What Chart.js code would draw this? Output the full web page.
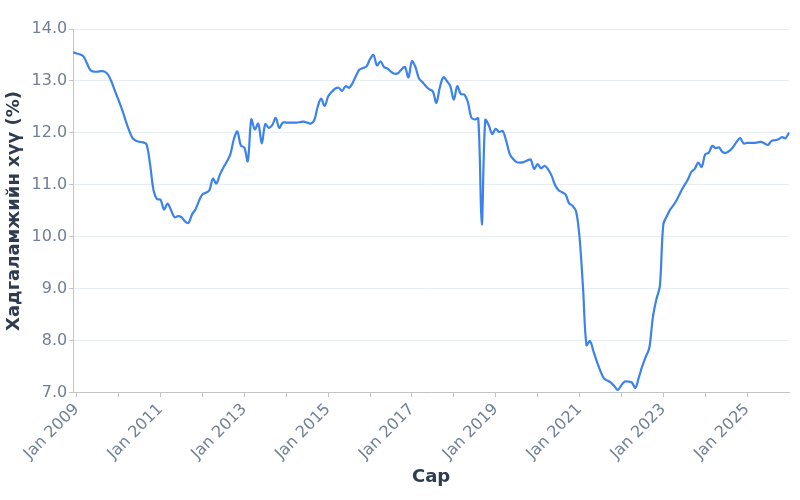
<!DOCTYPE html>
<html>
<head>
<meta charset="utf-8">
<script src="https://cdn.jsdelivr.net/npm/chart.js@4"></script>
<style>
    html, body { margin: 0; padding: 0; background: #fff; }
    #wrap { width: 800px; height: 500px; }
</style>
</head>
<body>
<div id="wrap"><canvas id="rateChart" width="800" height="500"></canvas></div>
<script>
// Monthly deposit rate, Dec 2008 .. Jan 2026
const startYear = 2008;
const startMonth = 11; // December
const monthNames = ['Jan', 'Feb', 'Mar', 'Apr', 'May', 'Jun',
                    'Jul', 'Aug', 'Sep', 'Oct', 'Nov', 'Dec'];

const depositRate = [
    13.55,                                                                               // Dec 2008
    13.53, 13.51, 13.47, 13.33, 13.20, 13.18, 13.18, 13.19, 13.18, 13.12, 12.98, 12.80, // 2009
    12.63, 12.45, 12.24, 12.05, 11.90, 11.85, 11.83, 11.82, 11.78, 11.40, 10.90, 10.73, // 2010
    10.72, 10.53, 10.64, 10.52, 10.38, 10.40, 10.38, 10.30, 10.27, 10.43, 10.53, 10.69, // 2011
    10.82, 10.85, 10.90, 11.12, 11.03, 11.20, 11.33, 11.45, 11.59, 11.88, 12.03, 11.76, // 2012
    11.72, 11.46, 12.26, 12.07, 12.18, 11.80, 12.17, 12.10, 12.15, 12.29, 12.10, 12.20, // 2013
    12.20, 12.20, 12.20, 12.20, 12.21, 12.22, 12.20, 12.18, 12.24, 12.50, 12.66, 12.52, // 2014
    12.70, 12.79, 12.85, 12.87, 12.81, 12.90, 12.87, 12.96, 13.10, 13.22, 13.25, 13.28, // 2015
    13.42, 13.50, 13.30, 13.38, 13.27, 13.24, 13.18, 13.14, 13.15, 13.22, 13.27, 13.07, // 2016
    13.38, 13.27, 13.05, 12.98, 12.90, 12.84, 12.80, 12.58, 12.88, 13.07, 13.00, 12.90, // 2017
    12.64, 12.90, 12.75, 12.74, 12.60, 12.30, 12.26, 12.28, 10.24, 12.25, 12.15, 11.98, // 2018
    12.08, 12.02, 12.04, 11.85, 11.60, 11.50, 11.44, 11.43, 11.44, 11.47, 11.49, 11.31, // 2019
    11.40, 11.32, 11.37, 11.30, 11.18, 11.00, 10.90, 10.86, 10.82, 10.65, 10.60, 10.50, // 2020
    10.00,  9.03,  7.92,  8.00,  7.80,  7.60,  7.42,  7.28,  7.24,  7.20,  7.13,  7.06, // 2021
     7.15,  7.22,  7.22,  7.20,  7.10,  7.30,  7.52,  7.70,  7.87,  8.45,  8.80,  9.05, // 2022
    10.24, 10.40, 10.53, 10.62, 10.73, 10.87, 10.99, 11.10, 11.25, 11.31, 11.43, 11.35, // 2023
    11.59, 11.62, 11.75, 11.71, 11.72, 11.63, 11.62, 11.66, 11.73, 11.83, 11.90, 11.80, // 2024
    11.81, 11.81, 11.81, 11.82, 11.83, 11.80, 11.77, 11.85, 11.86, 11.88, 11.92, 11.90, // 2025
    12.01                                                                                // Jan 2026
];

const monthLabels = depositRate.map((_, i) => {
    const m = startMonth + i;
    return monthNames[m % 12] + ' ' + (startYear + Math.floor(m / 12));
});

const yMin = 7.0;
const yMax = 14.0;
const yStep = 1.0;

const xTitle = 'Сар';
const yTitle = 'Хадгаламжийн хүү (%)';

const fontFamily = '"DejaVu Sans", Verdana, sans-serif';
const tickColor = '#718096';
const titleColor = '#2f3b4f';
const axisColor = '#c4c4c4';

const ctx = document.getElementById('rateChart');
new Chart(ctx, {
    type: 'line',
    data: {
        labels: monthLabels,
        datasets: [{
            label: yTitle,
            data: depositRate,
            borderColor: 'rgb(59, 130, 235)',
            backgroundColor: 'transparent',
            borderWidth: 2.2,
            tension: 0.35,
            pointRadius: 0,
            fill: false
        }]
    },
    options: {
        responsive: false,
        animation: false,
        layout: { padding: { top: 29, right: 11, bottom: 8, left: 0 } },
        plugins: {
            legend: { display: false },
            tooltip: { enabled: false }
        },
        scales: {
            x: {
                type: 'category',
                border: { color: axisColor },
                grid: {
                    drawOnChartArea: false,
                    tickColor: axisColor,
                    tickLength: 4
                },
                ticks: {
                    autoSkip: false,
                    minRotation: 45,
                    maxRotation: 45,
                    color: tickColor,
                    font: { family: fontFamily, size: 16 },
                    callback: function (value, index) {
                        const m = startMonth + index;
                        // yearly ticks only, label every second year
                        if (m % 12 !== 0 || index === depositRate.length - 1) return null;
                        const yearOffset = Math.floor(m / 12) - 1;
                        return yearOffset % 2 === 0 ? this.getLabelForValue(value) : '';
                    }
                },
                title: {
                    display: true,
                    text: xTitle,
                    color: titleColor,
                    padding: { top: 0, bottom: 4 },
                    font: { family: fontFamily, size: 18, weight: 'bold' }
                }
            },
            y: {
                min: yMin,
                max: yMax,
                border: { color: axisColor },
                grid: {
                    color: 'rgba(226, 232, 240, 0.8)',
                    tickColor: axisColor,
                    tickLength: 4
                },
                ticks: {
                    stepSize: yStep,
                    padding: 2,
                    color: tickColor,
                    font: { family: fontFamily, size: 16 },
                    callback: v => v.toFixed(1)
                },
                title: {
                    display: true,
                    text: yTitle,
                    color: titleColor,
                    font: { family: fontFamily, size: 18, weight: 'bold' }
                }
            }
        }
    }
});
</script>
</body>
</html>
